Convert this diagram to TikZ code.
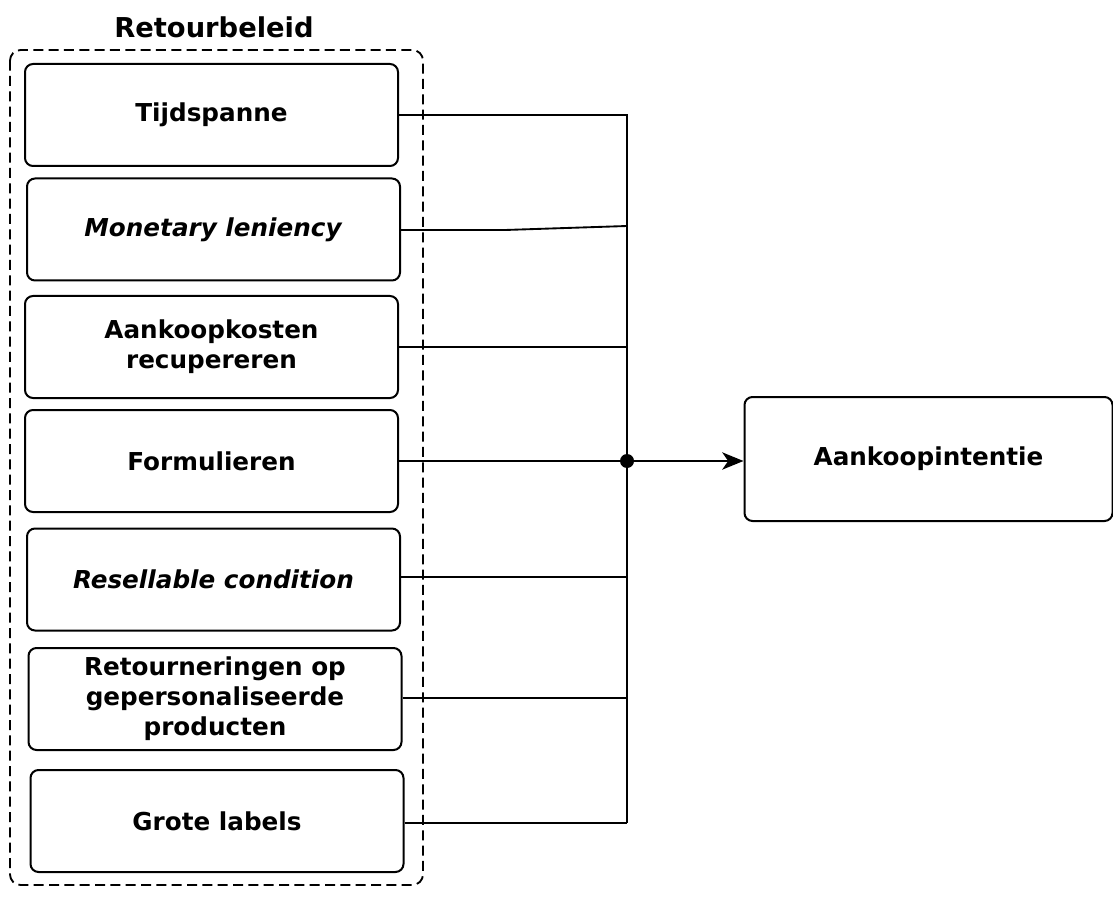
\documentclass[tikz,border=0pt]{standalone}
\usepackage{fontspec}
\setmainfont{DejaVu Sans}
\usetikzlibrary{arrows.meta}

\tikzset{
  factor/.style={draw, line width=1.5pt, rounded corners=6pt, align=center,
    minimum width=279.75pt, minimum height=76.5pt, inner sep=0pt,
    font=\bfseries\fontsize{18.5}{22.5}\selectfont},
  outcome/.style={factor, minimum width=276pt, minimum height=93pt},
  link/.style={line width=1.4pt},
}

\begin{document}
\begin{tikzpicture}[x=0.75pt,y=0.75pt,yscale=-1,xscale=1]
\useasboundingbox (0,0) rectangle (1113,898);
% groep
\draw [line width=1.4pt, dash pattern=on 7.5pt off 4pt, rounded corners=8pt] (10,50) rectangle (423,885);
\node (title) at (214,27) {\bfseries\fontsize{20.5}{24}\selectfont Retourbeleid};
% factoren
\node [factor] (tijd)   at (211.5,115)   {Tijdspanne};
\node [factor] (mon)    at (213.5,229.5) {\textit{Monetary leniency}};
\node [factor] (kost)   at (211.5,347)   {Aankoopkosten\\recupereren};
\node [factor] (form)   at (211.5,461)   {Formulieren};
\node [factor] (resell) at (213.5,579.5) {\textit{Resellable condition}};
\node [factor] (retour) at (215,699)     {Retourneringen op\\gepersonaliseerde\\producten};
\node [factor] (grote)  at (217,821)     {Grote labels};
\node [outcome] (intentie) at (928.5,459) {Aankoopintentie};
% verbindingen
\coordinate (bustop) at (627,115);
\coordinate (busbot) at (627,823);
\coordinate (knik) at (505,230);
\coordinate (junc) at (627,461);
\draw [link] (tijd.east) -- (bustop) -- (busbot);
\draw [link] (mon.east |- knik) -- (knik) -- (627,226);
\draw [link] (kost.east) -- (kost.east -| bustop);
\draw [link] (form.east) -- (junc);
\draw [link] (resell.east |- 0,577) -- (627,577);
\draw [link] (retour.east |- 0,698) -- (627,698);
\draw [link] (grote.east |- busbot) -- (busbot);
\draw [link, -{Stealth[length=16pt,width=13pt,inset=4.5pt]}] (junc) -- (intentie.west |- junc);
\fill (junc) circle (7);
\end{tikzpicture}
\end{document}
